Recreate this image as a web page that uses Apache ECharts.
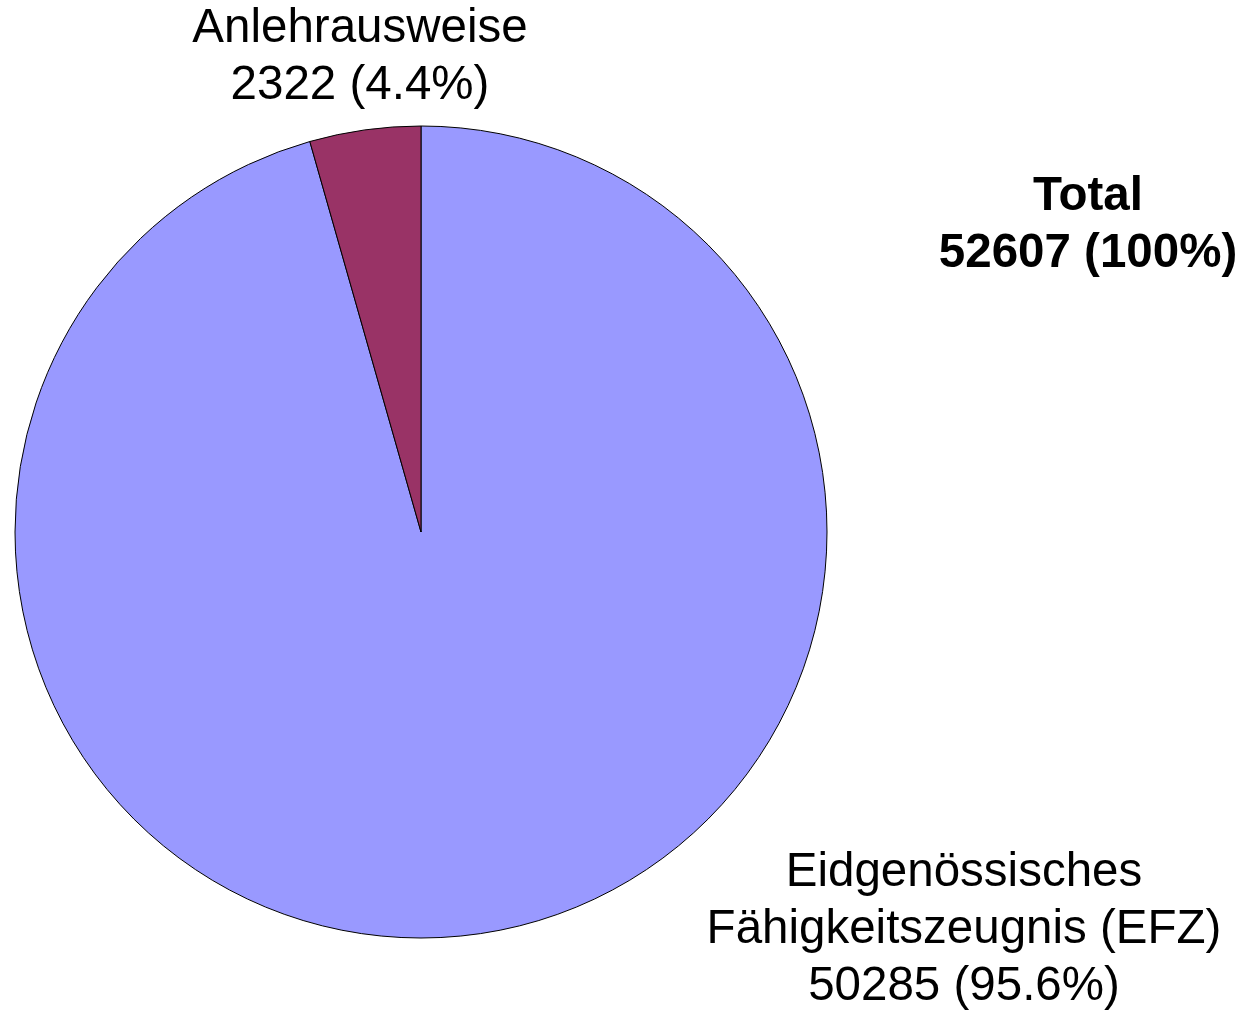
<!DOCTYPE html>
<html><head><meta charset="utf-8">
<script src="https://cdn.jsdelivr.net/npm/echarts@6/dist/echarts.min.js"></script>
<style>html,body{margin:0;padding:0;background:#fff}#c{width:1253px;height:1013px}</style>
</head><body><div id="c"></div>
<script>
const categories = ['Eidgenössisches\nFähigkeitszeugnis (EFZ)', 'Anlehrausweise'];
const values = [50285, 2322];
const colors = ['#9999FF', '#993366'];
const totalLabel = 'Total';

const total = values.reduce((a, b) => a + b, 0);
const FONT = 'Arial, "Liberation Sans", sans-serif';
const labelPos = [
  { x: 964, y: 930 },
  { x: 360, y: 57 }
];

const chart = echarts.init(document.getElementById('c'), null, { renderer: 'canvas' });
chart.setOption({
  backgroundColor: '#fff',
  animation: false,
  graphic: [{
    type: 'text',
    x: 1088, y: 225,
    style: {
      text: totalLabel + '\n' + total + ' (100%)',
      font: 'bold 47.5px ' + FONT,
      fill: '#000',
      align: 'center',
      verticalAlign: 'middle',
      lineHeight: 57
    }
  }],
  series: [{
    type: 'pie',
    center: [421, 532],
    radius: 406,
    startAngle: 90,
    clockwise: true,
    silent: true,
    percentPrecision: 1,
    data: categories.map((n, i) => ({ name: n, value: values[i], itemStyle: { color: colors[i] } })),
    itemStyle: { borderColor: '#000', borderWidth: 1 },
    label: {
      show: true,
      formatter: '{b}\n{c} ({d}%)',
      fontFamily: FONT,
      fontSize: 47.5,
      lineHeight: 57,
      color: '#000',
      align: 'center',
      overflow: 'none'
    },
    labelLine: { show: false },
    labelLayout: function (p) {
      const pos = labelPos[p.dataIndex];
      return { x: pos.x, y: pos.y, align: 'center', verticalAlign: 'middle', width: 700 };
    }
  }]
});
</script></body></html>
